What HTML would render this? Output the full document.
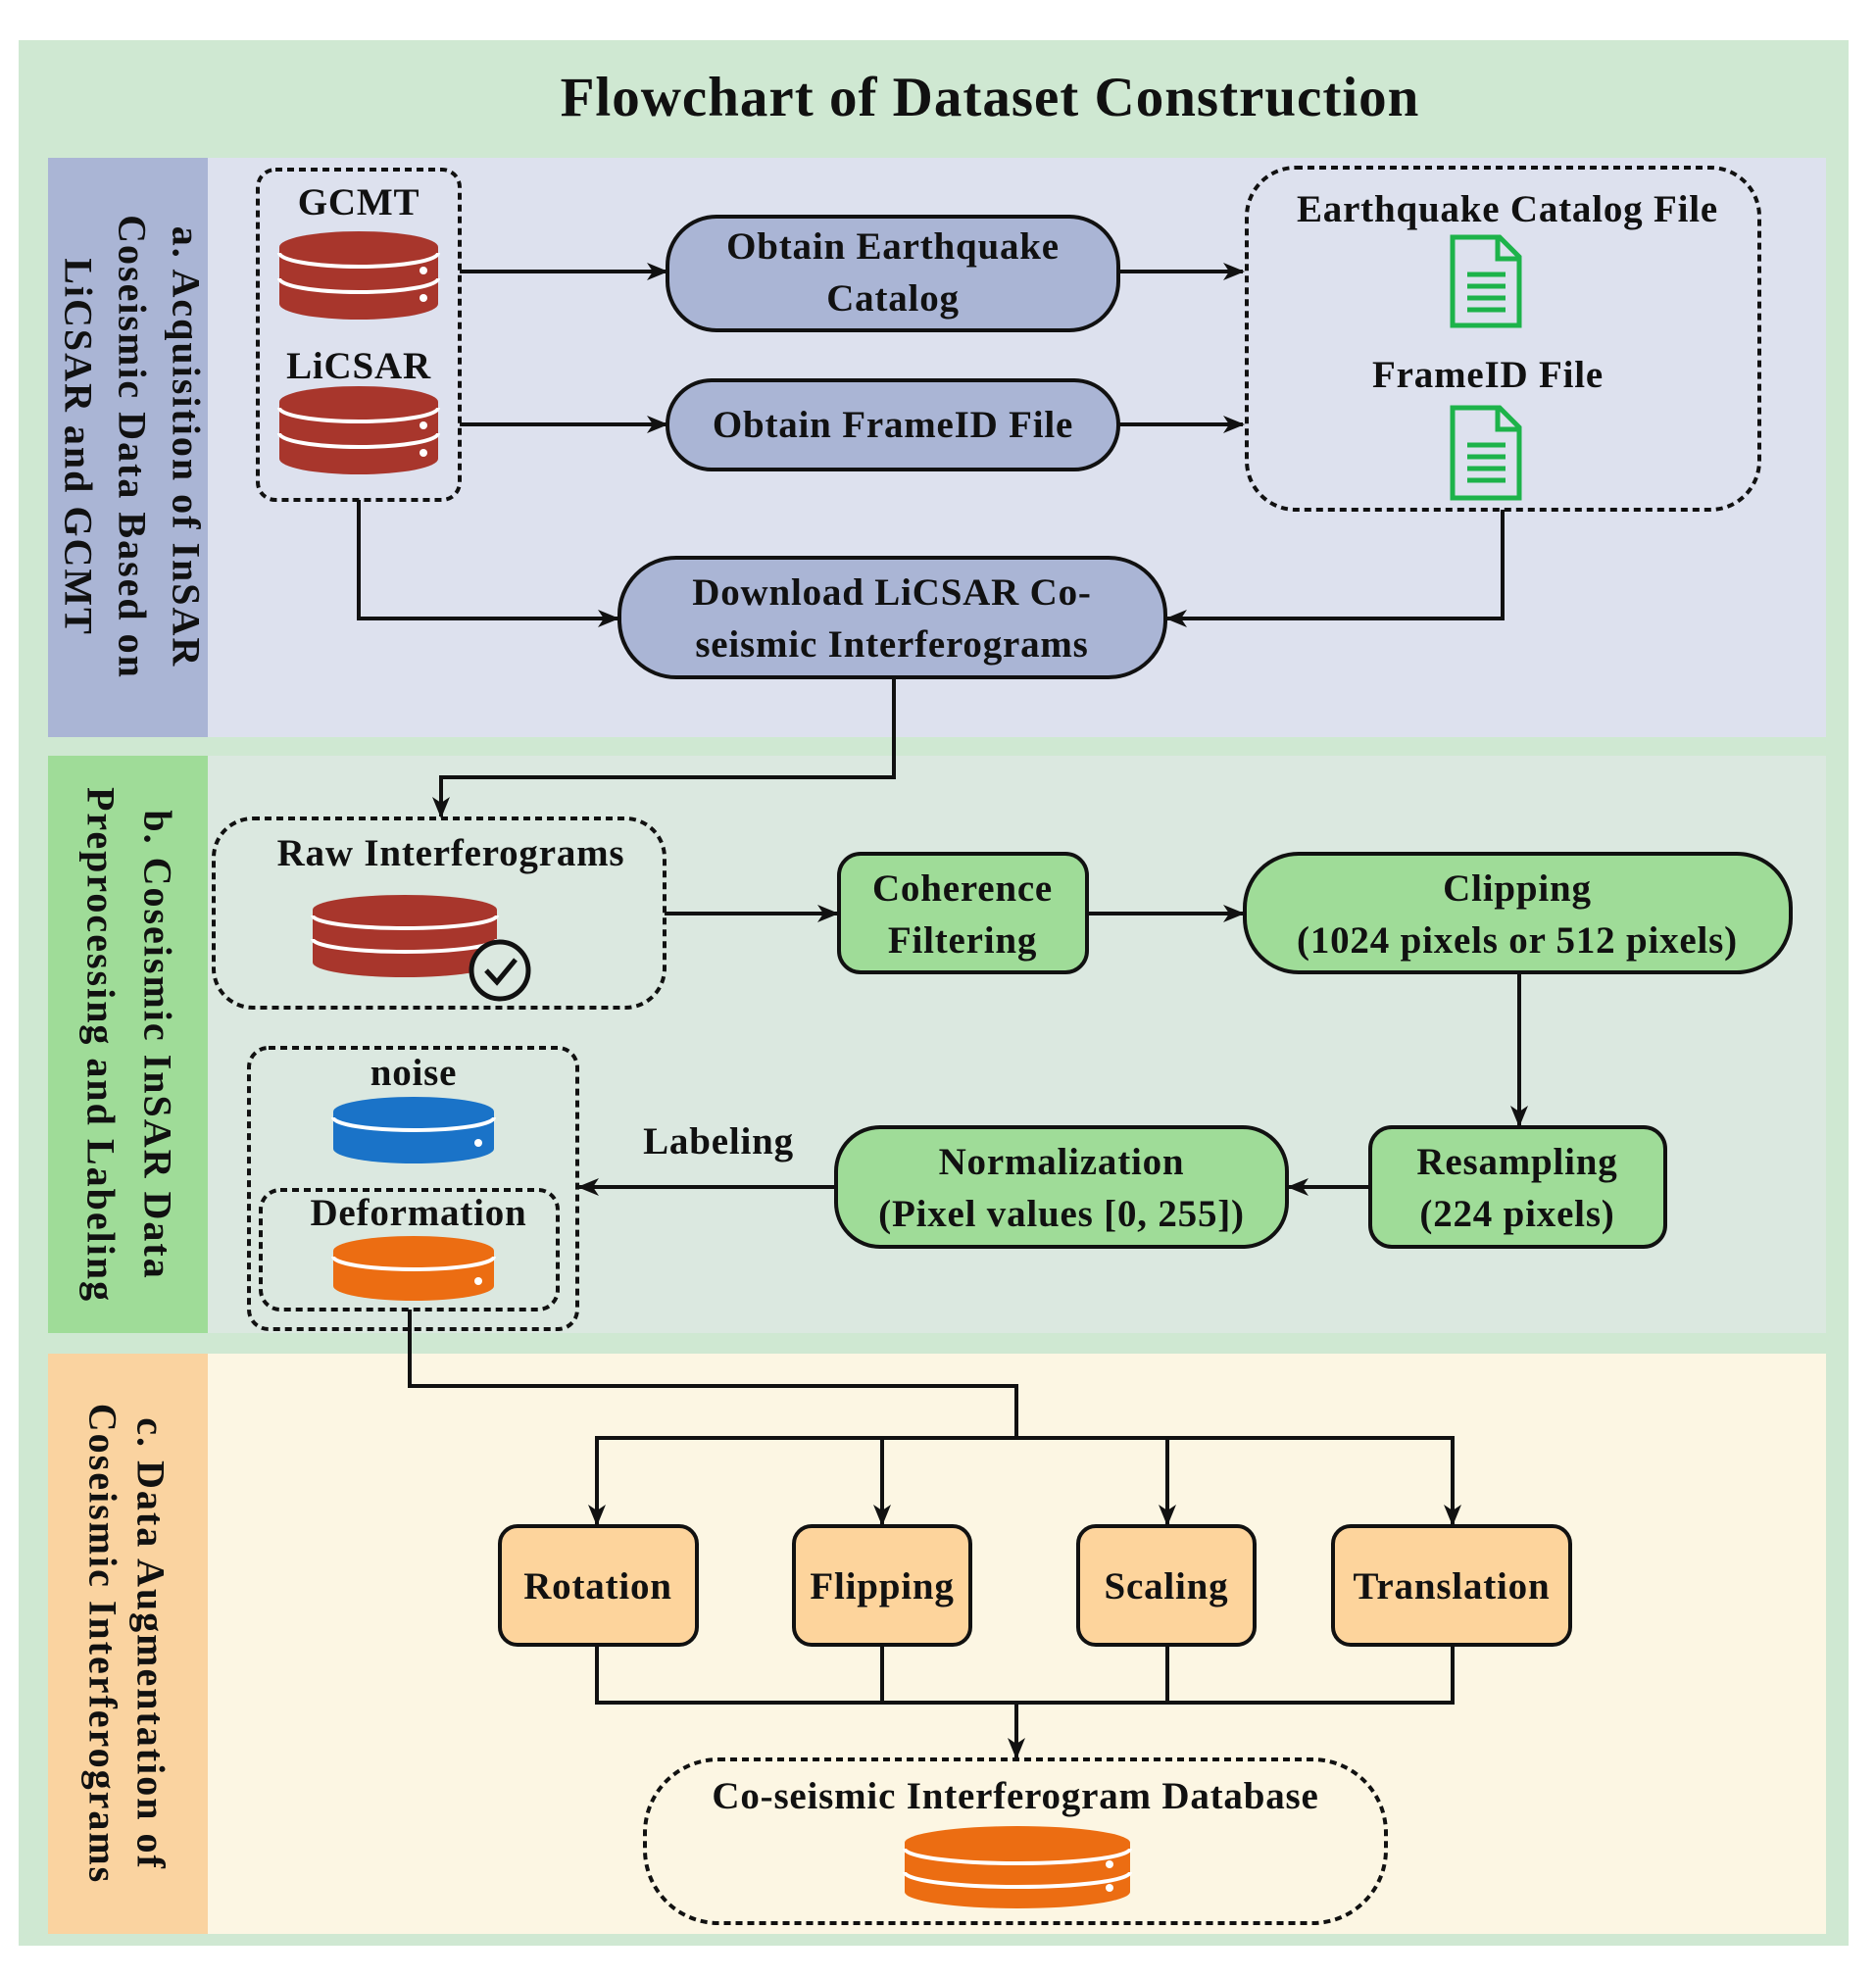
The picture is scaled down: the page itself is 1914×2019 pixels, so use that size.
<!DOCTYPE html>
<html><head><meta charset="utf-8"><style>
html,body{margin:0;padding:0;background:#fff}
svg{display:block}
text{font-family:"Liberation Serif",serif;font-weight:bold;fill:#111}
</style></head><body>
<svg width="1914" height="2019" viewBox="0 0 1914 2019" xmlns="http://www.w3.org/2000/svg">
<defs>
<marker id="ar2" markerWidth="22" markerHeight="22" refX="20" refY="11" orient="auto" markerUnits="userSpaceOnUse" viewBox="0 0 22 22">
<path d="M0,2 L22,11 L0,20 L6,11 z" fill="#111"/></marker>
</defs>
<rect x="19" y="41" width="1867" height="1944" fill="#cfe8d2"/>
<text x="1010" y="118" font-size="57" text-anchor="middle" letter-spacing="1">Flowchart of Dataset Construction</text>

<rect x="49" y="161" width="1814" height="591" fill="#dde1ee"/>
<rect x="49" y="161" width="163" height="591" fill="#aab5d5"/>
<g transform="translate(130,456) rotate(90)" font-size="40" letter-spacing="2">
<text x="0" y="-60" text-anchor="middle" dominant-baseline="central">a. Acquisition of InSAR</text>
<text x="0" y="-5" text-anchor="middle" dominant-baseline="central">Coseismic Data Based on</text>
<text x="0" y="50" text-anchor="middle" dominant-baseline="central">LiCSAR and GCMT</text>
</g>
<rect x="49" y="771" width="1814" height="589" fill="#dbe8e0"/>
<rect x="49" y="771" width="163" height="589" fill="#9fdc98"/>
<g transform="translate(130,1066) rotate(90)" font-size="40" letter-spacing="2">
<text x="0" y="-31" text-anchor="middle" dominant-baseline="central">b. Coseismic InSAR Data</text>
<text x="0" y="27" text-anchor="middle" dominant-baseline="central">Preprocessing and Labeling</text>
</g>
<rect x="49" y="1381" width="1814" height="592" fill="#fcf6e3"/>
<rect x="49" y="1381" width="163" height="592" fill="#fad3a0"/>
<g transform="translate(130,1677) rotate(90)" font-size="40" letter-spacing="2">
<text x="0" y="-24" text-anchor="middle" dominant-baseline="central">c. Data Augmentation of</text>
<text x="0" y="25" text-anchor="middle" dominant-baseline="central">Coseismic Interferograms</text>
</g>

<g fill="none" stroke="#111" stroke-width="4">
<rect x="263" y="173" width="206" height="337" rx="18" stroke-dasharray="7,5"/>
<rect x="1272" y="171" width="523" height="349" rx="50" stroke-dasharray="7,5"/>
<rect x="218" y="835" width="460" height="193" rx="40" stroke-dasharray="7,5"/>
<rect x="254" y="1069" width="335" height="287" rx="20" stroke-dasharray="7,5"/>
<rect x="266" y="1214" width="303" height="122" rx="20" stroke-dasharray="7,5"/>
<rect x="658" y="1795" width="756" height="167" rx="75" stroke-dasharray="7,5"/>
</g>

<g stroke="#111" stroke-width="4">
<rect x="681" y="221" width="460" height="116" rx="50" fill="#aab5d5"/>
<rect x="681" y="388" width="460" height="91" rx="45" fill="#aab5d5"/>
<rect x="632" y="569" width="557" height="122" rx="58" fill="#aab5d5"/>
<rect x="856" y="871" width="253" height="121" rx="22" fill="#9fdc98"/>
<rect x="1270" y="871" width="557" height="121" rx="55" fill="#9fdc98"/>
<rect x="1398" y="1150" width="301" height="122" rx="22" fill="#9fdc98"/>
<rect x="853" y="1150" width="460" height="122" rx="45" fill="#9fdc98"/>
<rect x="510" y="1557" width="201" height="121" rx="18" fill="#fdd49c"/>
<rect x="810" y="1557" width="180" height="121" rx="18" fill="#fdd49c"/>
<rect x="1100" y="1557" width="180" height="121" rx="18" fill="#fdd49c"/>
<rect x="1360" y="1557" width="242" height="121" rx="18" fill="#fdd49c"/>
</g>

<g font-size="39" text-anchor="middle" letter-spacing="0.8">
<text x="366" y="219">GCMT</text>
<text x="366" y="386">LiCSAR</text>
<text x="911" y="264">Obtain Earthquake</text>
<text x="911" y="317">Catalog</text>
<text x="911" y="446">Obtain FrameID File</text>
<text x="1538" y="226">Earthquake Catalog File</text>
<text x="1518" y="395">FrameID File</text>
<text x="910" y="617">Download LiCSAR Co-</text>
<text x="910" y="670">seismic Interferograms</text>
<text x="460" y="883">Raw Interferograms</text>
<text x="982" y="919">Coherence</text>
<text x="982" y="972">Filtering</text>
<text x="1548" y="919">Clipping</text>
<text x="1548" y="972">(1024 pixels or 512 pixels)</text>
<text x="1548" y="1198">Resampling</text>
<text x="1548" y="1251">(224 pixels)</text>
<text x="1083" y="1198">Normalization</text>
<text x="1083" y="1251">(Pixel values [0, 255])</text>
<text x="733" y="1177">Labeling</text>
<text x="422" y="1107">noise</text>
<text x="427" y="1250">Deformation</text>
<text x="610" y="1631">Rotation</text>
<text x="900" y="1631">Flipping</text>
<text x="1190" y="1631">Scaling</text>
<text x="1481" y="1631">Translation</text>
<text x="1036" y="1845">Co-seismic Interferogram Database</text>
</g>

<g fill="none" stroke="#111" stroke-width="4" marker-end="url(#ar2)">
<path d="M469,277 H680"/>
<path d="M1141,277 H1268"/>
<path d="M469,433 H680"/>
<path d="M1141,433 H1268"/>
<path d="M366,510 V631 H630"/>
<path d="M1533,520 V631 H1191"/>
<path d="M912,691 V793 H450 V833"/>
<path d="M678,932 H854"/>
<path d="M1109,932 H1268"/>
<path d="M1550,992 V1148"/>
<path d="M1398,1211 H1315"/>
<path d="M853,1211 H591"/>
<path d="M609,1467 V1555"/>
<path d="M900,1467 V1555"/>
<path d="M1191,1467 V1555"/>
<path d="M1482,1467 V1555"/>
<path d="M1037,1737 V1793"/>
</g>
<g fill="none" stroke="#111" stroke-width="4">
<path d="M418,1336 V1414 H1037 V1467"/>
<path d="M607,1467 H1484"/>
<path d="M609,1678 V1737 H1482 V1678"/>
<path d="M900,1678 V1737"/>
<path d="M1191,1678 V1737"/>
</g>

<g>
<path d="M285,252 A81,16 0 0 1 447,252 V310 A81,16 0 0 1 285,310 Z" fill="#a8362c"/>
<path d="M285,258 A81,14 0 0 0 447,258" fill="none" stroke="#fff" stroke-width="4"/>
<path d="M285,284 A81,14 0 0 0 447,284" fill="none" stroke="#fff" stroke-width="4"/>
<circle cx="432" cy="276" r="4" fill="#fff"/><circle cx="432" cy="304" r="4" fill="#fff"/>
</g>
<g transform="translate(0,158)">
<path d="M285,252 A81,16 0 0 1 447,252 V310 A81,16 0 0 1 285,310 Z" fill="#a8362c"/>
<path d="M285,258 A81,14 0 0 0 447,258" fill="none" stroke="#fff" stroke-width="4"/>
<path d="M285,284 A81,14 0 0 0 447,284" fill="none" stroke="#fff" stroke-width="4"/>
<circle cx="432" cy="276" r="4" fill="#fff"/><circle cx="432" cy="304" r="4" fill="#fff"/>
</g>
<path d="M319,928 A94,15 0 0 1 507,928 V982 A94,15 0 0 1 319,982 Z" fill="#a8362c"/>
<path d="M319,934 A94,13 0 0 0 507,934" fill="none" stroke="#fff" stroke-width="4"/>
<path d="M319,958 A94,13 0 0 0 507,958" fill="none" stroke="#fff" stroke-width="4"/>
<circle cx="510" cy="990" r="29" fill="#dbe8e0" stroke="#111" stroke-width="5"/>
<path d="M496,990 L507,1002 L526,979" fill="none" stroke="#111" stroke-width="5"/>
<path d="M340,1134 A82,15 0 0 1 504,1134 V1172 A82,15 0 0 1 340,1172 Z" fill="#1a73c8"/>
<path d="M340,1140 A82,13 0 0 0 504,1140" fill="none" stroke="#fff" stroke-width="4"/>
<circle cx="488" cy="1166" r="4" fill="#fff"/>
<path d="M340,1276 A82,15 0 0 1 504,1276 V1312 A82,15 0 0 1 340,1312 Z" fill="#ec6d12"/>
<path d="M340,1282 A82,13 0 0 0 504,1282" fill="none" stroke="#fff" stroke-width="4"/>
<circle cx="488" cy="1307" r="4" fill="#fff"/>
<path d="M923,1880 A115,17 0 0 1 1153,1880 V1930 A115,17 0 0 1 923,1930 Z" fill="#ec6d12"/>
<path d="M923,1886 A115,15 0 0 0 1153,1886" fill="none" stroke="#fff" stroke-width="4"/>
<path d="M923,1910 A115,15 0 0 0 1153,1910" fill="none" stroke="#fff" stroke-width="4"/>
<circle cx="1132" cy="1902" r="4" fill="#fff"/><circle cx="1132" cy="1926" r="4" fill="#fff"/>

<g fill="none" stroke="#1db34a" stroke-width="5">
<path d="M1482,242 H1530 L1550,262 V332 H1482 Z"/><path d="M1528,242 V264 H1550"/>
<path d="M1497,280 H1536 M1497,292 H1536 M1497,304 H1536 M1497,316 H1536"/>
<path d="M1482,416 H1530 L1550,436 V508 H1482 Z"/><path d="M1528,416 V438 H1550"/>
<path d="M1497,454 H1536 M1497,466 H1536 M1497,478 H1536 M1497,490 H1536"/>
</g>
</svg>
</body></html>
